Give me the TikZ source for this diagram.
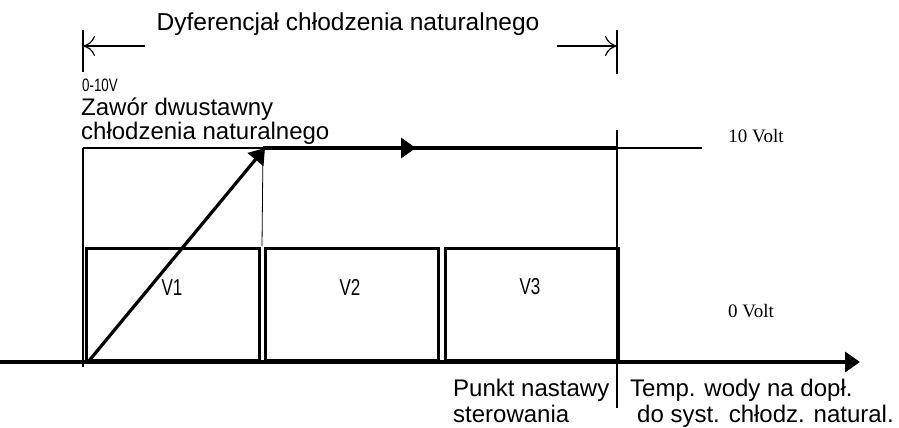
\documentclass[tikz,border=0pt]{standalone}
\usepackage{fontspec}
\setmainfont{Liberation Sans}
\newfontfamily\serifv{Liberation Serif}
\newfontfamily\narrowf[FakeStretch=0.74]{Liberation Sans}
\usetikzlibrary{arrows.meta}
\begin{document}
\begin{tikzpicture}[x=1pt,y=-1pt,
  thinln/.style={line width=1.2pt},
  thickln/.style={line width=3.2pt},
  boxst/.style={draw,line width=3pt,minimum width=173pt,minimum height=112pt,anchor=south west,inner sep=0pt},
  lbl/.style={inner sep=0pt,anchor=base west,font=\fontsize{24}{26}\selectfont},
  vlbl/.style={inner sep=0pt,anchor=base,font=\narrowf\fontsize{23}{25}\selectfont},
  voltlbl/.style={inner sep=0pt,anchor=base,font=\serifv\fontsize{19}{21}\selectfont},
  openarr/.style={-{To[length=12pt,width=20pt,line width=1.2pt]}},
  filltri/.style={-{Triangle[length=15pt,width=20pt]}}
]
\useasboundingbox (0,0) rectangle (899,428);
% coordinates
\coordinate (axL) at (0,362);
\coordinate (axR) at (860,362);
\coordinate (oL) at (83,367);
\coordinate (tL) at (83,148);
\coordinate (tM) at (263,148);
\coordinate (tMb) at (262,246);
\coordinate (tR) at (617,148);
\coordinate (tRR) at (702,148);
\coordinate (midA) at (416,148);
\coordinate (vTop) at (617,130);
\coordinate (vBot) at (617,408);
\coordinate (dS) at (88,362);
\coordinate (dE) at (265,148);
\coordinate (dimLt) at (83,30);
\coordinate (dimLb) at (83,72);
\coordinate (dimRt) at (617,30);
\coordinate (dimRb) at (617,74);
\coordinate (aL1) at (145,46);
\coordinate (aL2) at (83,46);
\coordinate (aR1) at (557,46);
\coordinate (aR2) at (617,46);
% boxes
\node[boxst] (b1) at (84.5,361.5) {};
\node[boxst] (b2) at (263.5,361.5) {};
\node[boxst] (b3) at (443.5,361.5) {};
% axis
\draw[thickln,filltri] (axL) -- (axR);
% thin frame lines
\draw[thinln] (tL) -- (oL);
\draw[thinln] (tL) -- (tM);
\draw[line width=0.8pt] (tM) -- (tMb);
\draw[thinln] (vTop) -- (vBot);
\draw[thinln] (tR) -- (tRR);
% top thick line with mid arrow
\draw[thickln] (tM) -- (tR);
\draw[thickln,filltri] (tM) -- (midA);
% diagonal
\draw[thickln,filltri] (dS) -- (dE);
% dimension
\draw[thinln] (dimLt) -- (dimLb);
\draw[thinln] (dimRt) -- (dimRb);
\draw[thinln,openarr] (aL1) -- (aL2);
\draw[thinln,openarr] (aR1) -- (aR2);
% texts
\node[inner sep=0pt,anchor=base,font=\fontsize{24.5}{26}\selectfont] (tdyf) at (348,31) {Dyferencjał chłodzenia naturalnego};
\node[inner sep=0pt,anchor=base west,font=\narrowf\fontsize{18}{20}\selectfont] (t010) at (82,92) {0-10V};
\node[lbl] (tzaw) at (81,115) {Zawór dwustawny};
\node[lbl] (tchl) at (81,139) {chłodzenia naturalnego};
\node[vlbl] (v1) at (172,295) {V1};
\node[vlbl] (v2) at (350,295) {V2};
\node[vlbl] (v3) at (530,294) {V3};
\node[voltlbl] (t10v) at (756,142) {10 Volt};
\node[voltlbl] (t0v) at (751,317) {0 Volt};
\node[lbl] (tpun) at (453,396) {Punkt nastawy};
\node[lbl] (tste) at (453,422) {sterowania};
\node[lbl] (ttem) at (630,396) {Temp. wody na dopł.};
\node[lbl] (tdo) at (637,422) {do syst. chłodz. natural.};
\end{tikzpicture}
\end{document}
